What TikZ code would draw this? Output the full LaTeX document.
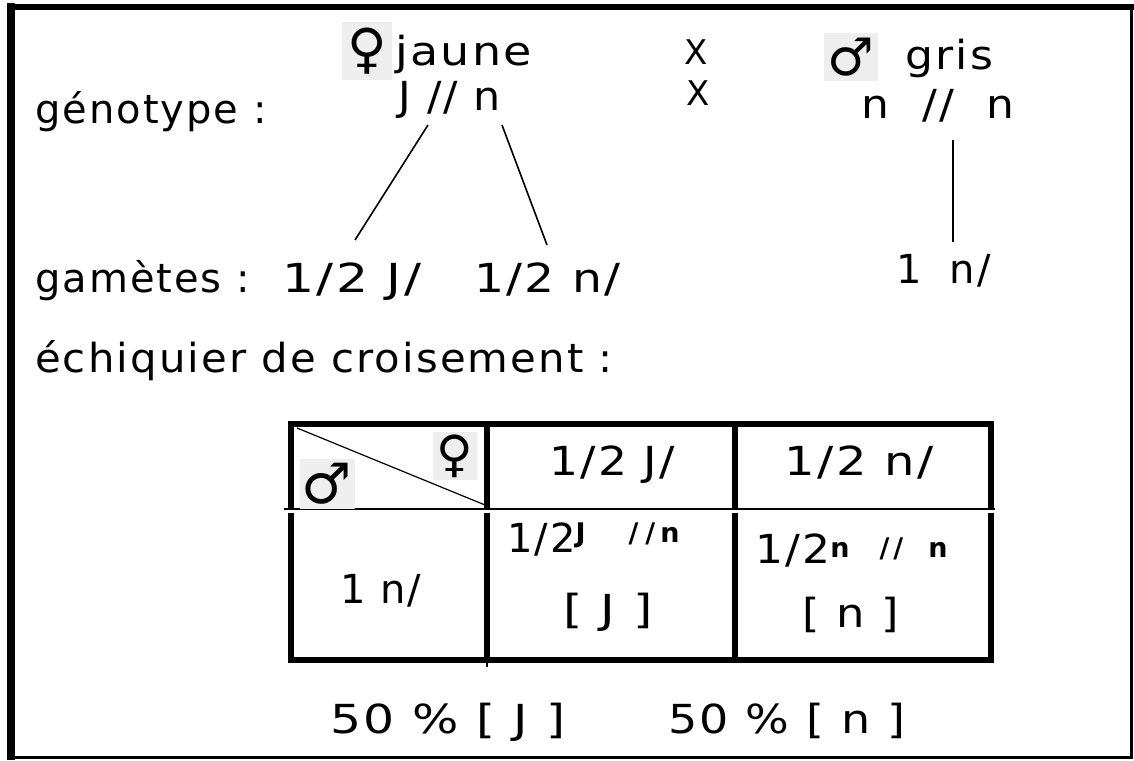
\documentclass[tikz,border=0pt]{standalone}
\usepackage{graphicx}
\usepackage{fontspec}
\setmainfont{DejaVu Sans}[LetterSpace=5]
\newfontfamily\symfont{DejaVu Sans}
\newcommand{\supfont}{\fontsize{27}{30}\selectfont\bfseries}
\newcommand{\sx}[2]{\scalebox{#1}[1]{#2}}
\definecolor{symbg}{HTML}{EEEEEE}
\begin{document}
\begin{tikzpicture}[x=1pt,y=-1pt,
  txt/.style={font=\fontsize{40}{48}\selectfont, inner sep=0pt, anchor=base west},
  symbox/.style={fill=symbg, inner sep=0pt, font=\symfont\fontsize{54}{58}\selectfont},
  crossmark/.style={font=\fontsize{34}{38}\selectfont, inner sep=0pt},
  thinline/.style={line width=1.6pt},
  tline/.style={line width=6pt},
  frameline/.style={black}]
\useasboundingbox (0,0) rectangle (1134,760);
\fill[white] (0,0) rectangle (1134,760);
% outer frame
\draw[frameline, line width=8pt] (11,3) -- (11,760);
\draw[frameline, line width=6pt] (7,7) -- (1134,7);
\draw[frameline, line width=3pt] (1131.5,4) -- (1131.5,759);
\draw[frameline, line width=3pt] (7,757.5) -- (1133,757.5);

% genotype line
\node[txt] (geno) at (35,123) {génotype :};
\node[symbox, minimum width=50pt, minimum height=58pt] (fsym) at (367,51) {♀};
\node[txt] (jaune) at (395,65) {\sx{1.15}{jaune}};
\node[txt, anchor=base] (fgen) at (450,110) {\sx{1.07}{J // n}};
\node[crossmark] (x1) at (696,52) {X};
\node[crossmark] (x2) at (698,93) {X};
\node[symbox, minimum width=54pt, minimum height=47pt, font=\symfont\fontsize{52}{56}\selectfont] (msym) at (851,57) {♂};
\node[txt] (gris) at (905,70) {\sx{1.1}{gris}};
\node[txt, anchor=base] (mgen) at (938,118) {\sx{1.1}{n\hspace{30pt}//\hspace{30pt}n}};

% gametes
\node[txt] (gam) at (35,292) {gamètes :};
\node[txt] (g1) at (282,292) {\sx{1.26}{1/2 J/}};
\node[txt] (g2) at (474,292) {\sx{1.18}{1/2 n/}};
\node[txt] (g3) at (896,283) {1\hspace{28pt}n/};
\coordinate (fa) at (428,125);
\coordinate (fb) at (502,125);
\coordinate (ga) at (355,240);
\coordinate (gb) at (547,245);
\coordinate (ma) at (953,140);
\coordinate (mb) at (953,242);
\draw[thinline] (fa) -- (ga);
\draw[thinline] (fb) -- (gb);
\draw[thinline] (ma) -- (mb);

\node[txt] (ech) at (35,372) {\sx{1.045}{échiquier de croisement :}};

% table
\draw[tline] (288,424) -- (994,424);
\foreach \x in {291,487,735,991} \draw[tline] (\x,421) -- (\x,508);
\draw[line width=2.5pt] (284,509) -- (995,509);
\foreach \x in {291,487,735,991} \draw[tline] (\x,513) -- (\x,663);
\draw[tline] (288,660) -- (994,660);
\draw[line width=2pt] (487,660) -- (487,667);
\coordinate (da) at (297,428);
\coordinate (db) at (485,505);
\draw[line width=1.2pt] (da) -- (db);
\node[symbox, minimum width=55pt, minimum height=50pt, font=\symfont\fontsize{56}{60}\selectfont] (tm) at (327,484) {♂};
\node[symbox, minimum width=44pt, minimum height=48pt, font=\symfont\fontsize{50}{54}\selectfont] (tf) at (455,456) {♀};
\node[txt, anchor=base] (h1) at (612,475) {\sx{1.14}{1/2 J/}};
\node[txt, anchor=base] (h2) at (859,475) {\sx{1.2}{1/2 n/}};
\node[txt, anchor=base] (r1) at (381,603) {1 n/};
\node[txt] (c1) at (507,552) {1/2\raisebox{10pt}{\supfont J\hspace{43pt}/\hspace{7pt}/\hspace{5pt}n}};
\node[txt, anchor=base] (c1p) at (608,623) {\sx{1.24}{[ J ]}};
\node[txt] (c2) at (755,563) {\sx{1.1}{1/2}\raisebox{6pt}{\supfont n\hspace{30pt}/\hspace{4pt}/\hspace{25pt}n}};
\node[txt, anchor=base] (c2p) at (851,627) {\sx{1.12}{[ n ]}};

% results
\node[txt] (res1) at (330,733) {\sx{1.22}{50 \% [ J ]}};
\node[txt] (res2) at (668,733) {\sx{1.15}{50 \% [ n ]}};
\end{tikzpicture}
\end{document}
